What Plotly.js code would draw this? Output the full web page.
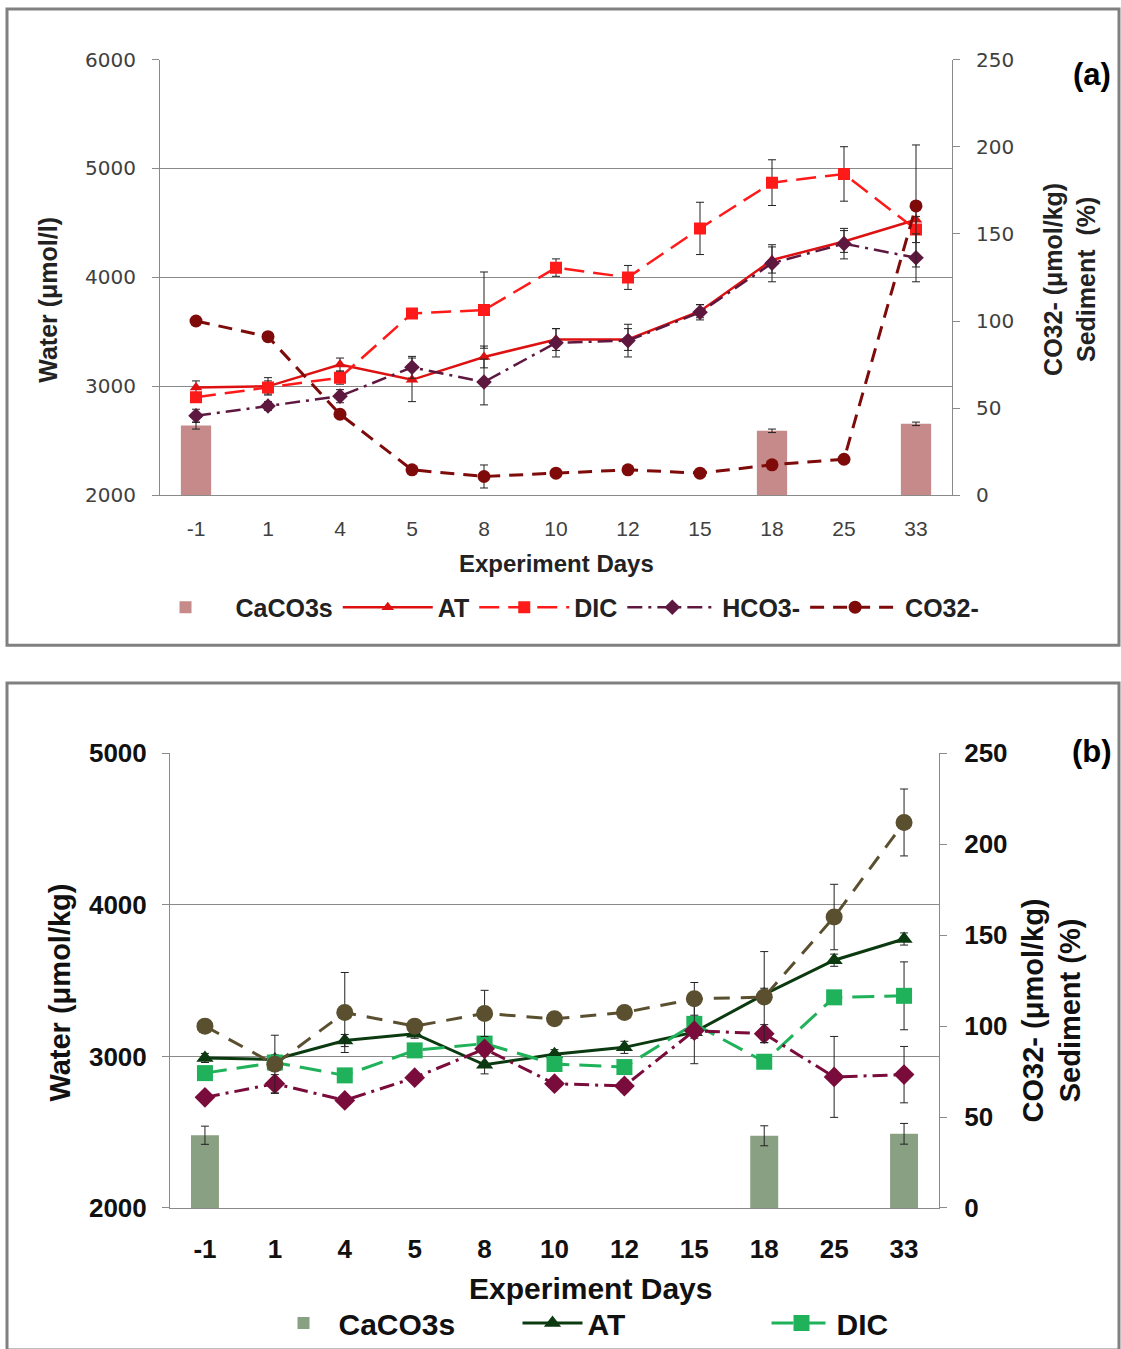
<!DOCTYPE html>
<html>
<head>
<meta charset="utf-8">
<script src="https://cdn.plot.ly/plotly-3.0.1.min.js"></script>
<style>html,body{margin:0;padding:0;background:#fff;}#chart{width:1121px;height:1349px;}</style>
</head>
<body>
<div id="chart"></div>
<script>
// ---- Data ----
const days = ['-1','1','4','5','8','10','12','15','18','25','33'];

// Panel (a)
const aCaCO3 = [40, null, null, null, null, null, null, null, 37, null, 41];
const aCaCO3Err = [2, 0, 0, 0, 0, 0, 0, 0, 1, 0, 1];
const aAT = [2990, 3000, 3200, 3060, 3270, 3430, 3430, 3690, 4160, 4330, 4530];
const aATErr = [60, 80, 60, 200, 100, 100, 100, 60, 120, 100, 100];
const aDIC = [2900, 2990, 3080, 3670, 3700, 4090, 4000, 4450, 4870, 4950, 4440];
const aDICErr = [40, 60, 60, 40, 350, 80, 110, 240, 210, 250, 120];
const aHCO3 = [2730, 2820, 2910, 3175, 3040, 3400, 3420, 3680, 4130, 4310, 4180];
const aHCO3Err = [60, 40, 60, 100, 210, 130, 150, 70, 170, 140, 220];
const aCO3 = [100, 91, 46.5, 14.6, 10.8, 12.7, 14.6, 12.7, 17.5, 20.7, 166];
const aCO3Err = [0, 0, 0, 0, 6.6, 0, 0, 0, 0, 0, 35];

// Panel (b)
const bCaCO3 = [40, null, null, null, null, null, null, null, 39.7, null, 40.8];
const bCaCO3Err = [5, 0, 0, 0, 0, 0, 0, 0, 5.5, 0, 5.7];
const bAT = [2990, 2980, 3105, 3150, 2945, 3015, 3060, 3160, 3410, 3635, 3775];
const bATErr = [30, 30, 40, 30, 60, 30, 40, 40, 40, 40, 40];
const bDIC = [2890, 2960, 2875, 3040, 3085, 2950, 2930, 3215, 2965, 3390, 3400];
const bDICErr = [40, 40, 40, 40, 40, 40, 40, 40, 40, 40, 224];
const bHCO3 = [2730, 2820, 2710, 2860, 3050, 2820, 2805, 3170, 3150, 2865, 2880];
const bHCO3Err = [30, 60, 30, 30, 30, 30, 40, 218, 60, 267, 186];
const bCO3 = [100, 79, 107.5, 100, 107, 104, 107.5, 115, 116, 160, 212];
const bCO3Err = [0, 16, 22, 0, 12.7, 0, 0, 9, 25, 18, 18.4];

// ---- Helpers ----
const W = 1121, H = 1349;
const px = v => v / W;
const py = v => 1 - v / H;
const errStyle = arr => ({type: 'data', array: arr, visible: true, color: '#222', thickness: 1, width: 4});
const ARIAL = 'Arial, Liberation Sans, sans-serif';

const traces = [
  // Panel (a)
  {type: 'bar', name: 'CaCO3s', x: days, y: aCaCO3, xaxis: 'x', yaxis: 'y2', width: 0.42,
   marker: {color: '#c68a8a'}, error_y: errStyle(aCaCO3Err), legend: 'legend'},
  {type: 'scatter', mode: 'lines+markers', name: 'AT', x: days, y: aAT, xaxis: 'x', yaxis: 'y',
   line: {color: '#dd1111', width: 2.5}, marker: {symbol: 'triangle-up', size: 11, color: '#dd1111'},
   error_y: errStyle(aATErr), legend: 'legend'},
  {type: 'scatter', mode: 'lines+markers', name: 'DIC', x: days, y: aDIC, xaxis: 'x', yaxis: 'y',
   line: {color: '#ff1a1a', width: 2.5, dash: '20px,9px'}, marker: {symbol: 'square', size: 12, color: '#ff1a1a'},
   error_y: errStyle(aDICErr), legend: 'legend'},
  {type: 'scatter', mode: 'lines+markers', name: 'HCO3-', x: days, y: aHCO3, xaxis: 'x', yaxis: 'y',
   line: {color: '#5e1840', width: 2.5, dash: 'longdashdot'}, marker: {symbol: 'diamond', size: 12, color: '#5e1840'},
   error_y: errStyle(aHCO3Err), legend: 'legend'},
  {type: 'scatter', mode: 'lines+markers', name: 'CO32-', x: days, y: aCO3, xaxis: 'x', yaxis: 'y2',
   line: {color: '#7e0a0a', width: 3, dash: '14px,9px'}, marker: {symbol: 'circle', size: 13, color: '#7e0a0a'},
   error_y: errStyle(aCO3Err), legend: 'legend'},

  // Panel (b)
  {type: 'bar', name: 'CaCO3s', x: days, y: bCaCO3, xaxis: 'x2', yaxis: 'y4', width: 0.4,
   marker: {color: '#8aa082'}, error_y: errStyle(bCaCO3Err), legend: 'legend2'},
  {type: 'scatter', mode: 'lines+markers', name: 'AT', x: days, y: bAT, xaxis: 'x2', yaxis: 'y3',
   line: {color: '#0c3a10', width: 3}, marker: {symbol: 'triangle-up', size: 15, color: '#0c3a10'},
   error_y: errStyle(bATErr), legend: 'legend2'},
  {type: 'scatter', mode: 'lines+markers', name: 'DIC', x: days, y: bDIC, xaxis: 'x2', yaxis: 'y3',
   line: {color: '#1fb25a', width: 3, dash: '22px,10px'}, marker: {symbol: 'square', size: 16, color: '#1fb25a'},
   error_y: errStyle(bDICErr), legend: 'legend2'},
  {type: 'scatter', mode: 'lines+markers', name: 'HCO3-', x: days, y: bHCO3, xaxis: 'x2', yaxis: 'y3', showlegend: false,
   line: {color: '#7a0c3c', width: 3, dash: 'longdashdot'}, marker: {symbol: 'diamond', size: 16, color: '#7a0c3c'},
   error_y: errStyle(bHCO3Err)},
  {type: 'scatter', mode: 'lines+markers', name: 'CO32-', x: days, y: bCO3, xaxis: 'x2', yaxis: 'y4', showlegend: false,
   line: {color: '#5a5030', width: 3, dash: '16px,11px'}, marker: {symbol: 'circle', size: 17, color: '#5a5030'},
   error_y: errStyle(bCO3Err)}
];

const tickAx = {family: ARIAL, size: 21, color: '#404040'};
const tickAy = {family: 'DejaVu Sans, sans-serif', size: 20, color: '#404040'};
const tickB = {family: ARIAL, size: 26, color: '#111', weight: 'bold'};
const axisGray = '#8a8a8a';

const layout = {
  width: W, height: H,
  margin: {l: 0, r: 0, t: 0, b: 0},
  paper_bgcolor: '#fff', plot_bgcolor: 'rgba(0,0,0,0)',
  barmode: 'overlay',
  xaxis: {domain: [px(160), px(952)], anchor: 'y', type: 'category', categoryorder: 'array', categoryarray: days,
          range: [-0.5, 10.5], showline: true, linecolor: axisGray, linewidth: 1, showgrid: false, ticks: '',
          tickfont: tickAx, ticklabelstandoff: 14, zeroline: false},
  yaxis: {domain: [py(499), py(60)], anchor: 'x', range: [2000, 6000], dtick: 1000, tickfont: tickAy,
          showline: true, linecolor: axisGray, gridcolor: axisGray, gridwidth: 1, ticks: 'outside', ticklen: 7,
          tickcolor: axisGray, ticklabelstandoff: 12, zeroline: false},
  yaxis2: {overlaying: 'y', side: 'right', anchor: 'x', range: [0, 250], dtick: 50, tickfont: tickAy,
           showline: true, linecolor: axisGray, showgrid: false, ticks: 'outside', ticklen: 7,
           tickcolor: axisGray, ticklabelstandoff: 12, zeroline: false},
  xaxis2: {domain: [px(170), px(939)], anchor: 'y3', type: 'category', categoryorder: 'array', categoryarray: days,
           range: [-0.5, 10.5], showline: true, linecolor: axisGray, linewidth: 1, showgrid: false, ticks: '',
           tickfont: tickB, ticklabelstandoff: 18, zeroline: false},
  yaxis3: {domain: [py(1217), py(759)], anchor: 'x2', range: [2000, 5000], dtick: 1000, tickfont: tickB,
           showline: true, linecolor: axisGray, gridcolor: axisGray, gridwidth: 1, ticks: 'outside', ticklen: 7,
           tickcolor: axisGray, ticklabelstandoff: 10, zeroline: false},
  yaxis4: {overlaying: 'y3', side: 'right', anchor: 'x2', range: [0, 250], dtick: 50, tickfont: tickB,
           showline: true, linecolor: axisGray, showgrid: false, ticks: 'outside', ticklen: 7,
           tickcolor: axisGray, ticklabelstandoff: 12, zeroline: false},
  legend: {orientation: 'h', x: px(560), y: py(612), xanchor: 'center', yanchor: 'middle',
           font: {family: ARIAL, size: 25, color: '#222', weight: 'bold'},
           bgcolor: 'rgba(0,0,0,0)', itemwidth: 90},
  legend2: {orientation: 'h', x: px(642), y: py(1333), xanchor: 'center', yanchor: 'middle',
            font: {family: ARIAL, size: 30, color: '#111', weight: 'bold'},
            bgcolor: 'rgba(0,0,0,0)', itemwidth: 60, entrywidth: 174},
  shapes: [
    {type: 'rect', xref: 'paper', yref: 'paper', x0: px(7), x1: px(1119), y0: py(650), y1: py(9),
     line: {color: '#808080', width: 3}, fillcolor: 'rgba(0,0,0,0)', layer: 'below'},
    {type: 'rect', xref: 'paper', yref: 'paper', x0: px(7), x1: px(1119), y0: py(1360), y1: py(688),
     line: {color: '#808080', width: 3}, fillcolor: 'rgba(0,0,0,0)', layer: 'below'}
  ],
  annotations: [
    {text: 'Experiment Days', x: px(556), y: py(568), xref: 'paper', yref: 'paper', showarrow: false,
     xanchor: 'center', yanchor: 'middle', font: {family: ARIAL, size: 24, color: '#222', weight: 'bold'}},
    {text: 'Water (μmol/l)', x: px(48), y: py(302), xref: 'paper', yref: 'paper', showarrow: false, textangle: -90,
     xanchor: 'center', yanchor: 'middle', font: {family: ARIAL, size: 25, color: '#222', weight: 'bold'}},
    {text: 'CO32- (μmol/kg)<br>Sediment  (%)', x: px(1070), y: py(282), xref: 'paper', yref: 'paper', showarrow: false, textangle: -90,
     xanchor: 'center', yanchor: 'middle', font: {family: ARIAL, size: 25, color: '#222', weight: 'bold'}},
    {text: '(a)', x: px(1092), y: py(75), xref: 'paper', yref: 'paper', showarrow: false,
     xanchor: 'center', yanchor: 'middle', font: {family: ARIAL, size: 31, color: '#000', weight: 'bold'}},
    {text: 'Experiment Days', x: px(590), y: py(1298), xref: 'paper', yref: 'paper', showarrow: false,
     xanchor: 'center', yanchor: 'middle', font: {family: ARIAL, size: 30, color: '#111', weight: 'bold'}},
    {text: 'Water (μmol/kg)', x: px(60), y: py(1000), xref: 'paper', yref: 'paper', showarrow: false, textangle: -90,
     xanchor: 'center', yanchor: 'middle', font: {family: ARIAL, size: 29, color: '#111', weight: 'bold'}},
    {text: 'CO32- (μmol/kg)<br>Sediment (%)', x: px(1052), y: py(1018), xref: 'paper', yref: 'paper', showarrow: false, textangle: -90,
     xanchor: 'center', yanchor: 'middle', font: {family: ARIAL, size: 29, color: '#111', weight: 'bold'}},
    {text: '(b)', x: px(1092), y: py(757), xref: 'paper', yref: 'paper', showarrow: false,
     xanchor: 'center', yanchor: 'middle', font: {family: ARIAL, size: 31, color: '#000', weight: 'bold'}}
  ]
};

Plotly.newPlot('chart', traces, layout, {displayModeBar: false, staticPlot: true});
</script>
</body>
</html>
